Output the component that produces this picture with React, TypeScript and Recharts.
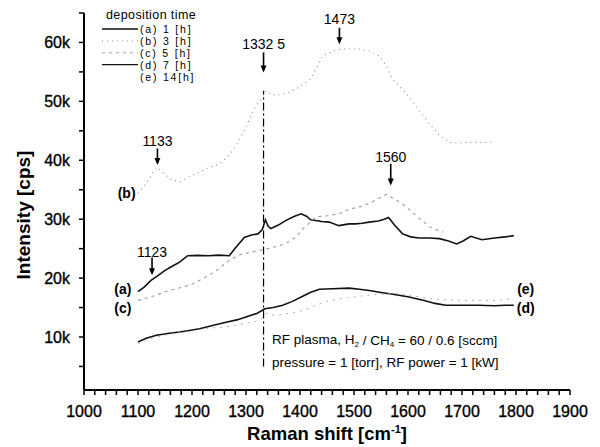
import React from 'react';
import { LineChart, Line, XAxis, YAxis, ReferenceLine, ReferenceDot } from 'recharts';

const FONT = '"Liberation Sans", Arial, sans-serif';

// (a) 1 h
const aX = [1100,1112,1124,1135,1150,1165,1177,1192,1210,1230,1250,1269,1281,1297,1310,1322,1330,1336,1341,1346,1360,1374,1390,1402,1412,1420,1440,1454,1472,1491,1503,1515,1528,1545,1556,1564,1575,1590,1605,1621,1640,1658,1675,1690,1702,1716,1737,1760,1780,1796];
const aV = [17700,18500,19600,20300,21300,22100,22700,23800,23850,23800,23900,23800,25200,26900,27300,27500,28200,29900,28800,28400,29000,29800,30500,30900,30500,29900,29600,29500,28900,29200,29200,29300,29500,29700,30000,30300,29000,27500,27000,26800,26800,26700,26300,25800,26300,27100,26500,26800,27000,27200];
// (b) 3 h
const bX = [1100,1115,1127,1136,1145,1160,1177,1195,1214,1232,1251,1270,1285,1300,1318,1330,1337,1345,1356,1380,1400,1420,1442,1463,1479,1508,1530,1547,1560,1571,1599,1630,1658,1682,1700,1719,1740,1760];
const bV = [34400,36000,37800,38800,38000,36800,36300,37200,38000,38800,39400,41000,43000,45600,49300,50500,51800,51300,51000,51500,52500,53800,57700,58600,58900,58900,58500,57700,56000,53800,51100,47300,44200,42900,43000,43050,43000,43100];
// (c) 5 h
const cX = [1100,1130,1158,1180,1201,1232,1245,1269,1290,1320,1340,1362,1380,1393,1408,1430,1454,1475,1491,1516,1535,1547,1560,1575,1590,1608,1625,1645,1665];
const cV = [16200,17000,17900,18400,19000,20500,21300,23000,24000,24600,25000,25500,26200,27000,28600,30400,30600,31000,31700,32200,33000,33600,34200,33400,32600,31200,29800,28400,27800];
// (d) 7 h
const dX = [1100,1115,1134,1155,1177,1195,1214,1240,1263,1283,1300,1320,1335,1350,1368,1385,1405,1420,1436,1460,1491,1510,1528,1547,1575,1602,1630,1650,1670,1700,1732,1760,1780,1796];
const dV = [9150,9800,10300,10600,10850,11100,11400,12000,12500,12900,13400,14000,14800,15000,15400,16000,16900,17600,18100,18200,18300,18100,17900,17600,17200,16800,16200,15700,15400,15400,15400,15300,15400,15400];
// (e) 14 h
const eX = [1100,1130,1160,1200,1230,1263,1300,1325,1337,1345,1356,1380,1405,1430,1454,1490,1528,1578,1610,1639,1670,1701,1740,1769,1793];
const eV = [8900,9900,10500,11000,11500,11700,12300,12800,14000,13800,13700,14000,14500,15400,16200,16700,17100,17400,17000,16500,16300,16200,16200,16200,16500];

const xTicks = Array.from({ length: 46 }, (_, i) => 1000 + i * 20);
const yTicks = [5000,10000,15000,20000,25000,30000,35000,40000,45000,50000,55000,60000,65000];

const legendTitle = 'deposition time';
const legendLabels = ['(a) 1 [h]', '(b) 3 [h]', '(c) 5 [h]', '(d) 7 [h]', '(e) 14[h]'];

// annotations: [label, x, textY, arrowFrom, arrowTo]
const peakNotes: [string, number, number, number, number][] = [
  ['1332 5', 1332.5, 59800, 58300, 54900],
  ['1473', 1473, 64000, 62500, 59700],
  ['1133', 1136, 43300, 42000, 39200],
  ['1560', 1568, 40600, 39400, 35700],
  ['1123', 1126, 24400, 23500, 20500],
];
// series tags: [label, x, y]
const seriesTags: [string, number, number][] = [
  ['(b)', 1079, 34400],
  ['(a)', 1072, 18200],
  ['(c)', 1072, 15000],
  ['(e)', 1818, 18200],
  ['(d)', 1818, 15000],
];

const toData = (xs: number[], vs: number[]) => xs.map((x, i) => ({ x, v: vs[i] }));

const styles = [
  { stroke: '#111', width: 1.6, dash: undefined as string | undefined },
  { stroke: '#8a8a8a', width: 1.1, dash: '1 4' },
  { stroke: '#9a9a9a', width: 1.1, dash: '3 4' },
  { stroke: '#111', width: 1.6, dash: undefined },
  { stroke: '#b0b0b0', width: 1.0, dash: '2 5' },
];
const series = [toData(aX, aV), toData(bX, bV), toData(cX, cV), toData(dX, dV), toData(eX, eV)];

const Arrow = (p: any) => {
  const { x1, y1, x2, y2 } = p;
  return (
    <g>
      <line x1={x1} y1={y1} x2={x2} y2={y2 - 5} stroke="#000" strokeWidth={1.6} />
      <polygon points={`${x2 - 3},${y2 - 7} ${x2 + 3},${y2 - 7} ${x2},${y2}`} fill="#000" />
    </g>
  );
};

const makeText = (label: string, size: number, weight: string) => (p: any) => (
  <text x={p.cx} y={p.cy} textAnchor="middle" dominantBaseline="central" fontSize={size} fontWeight={weight} fontFamily={FONT} fill="#000">{label}</text>
);

const tickStyle = { fontSize: 16, fill: '#000', fontFamily: FONT, stroke: '#000', strokeWidth: 0.35 };

export default function App() {
  return (
    <div style={{ position: 'absolute', left: 0, top: 0, width: 600, height: 447, background: '#fff' }}>
      <LineChart width={600} height={447} margin={{ top: 13, right: 30, bottom: 0, left: 0 }} style={{ fontFamily: FONT }}>
        <XAxis
          dataKey="x" type="number" domain={[1000, 1900]} ticks={xTicks} interval={0}
          allowDataOverflow height={57}
          tickFormatter={(v: number) => (v % 100 === 0 ? String(v) : '')}
          tick={tickStyle}
          tickSize={5} tickMargin={11}
          axisLine={{ stroke: '#000', strokeWidth: 2 }} tickLine={{ stroke: '#000', strokeWidth: 1.5 }}
        />
        <YAxis
          dataKey="v" type="number" domain={[1000, 65000]} ticks={yTicks} interval={0}
          allowDataOverflow width={84}
          tickFormatter={(v: number) => (v % 10000 === 0 ? `${v / 1000}k` : '')}
          tick={tickStyle}
          tickSize={5} tickMargin={9}
          axisLine={{ stroke: '#000', strokeWidth: 2 }} tickLine={{ stroke: '#000', strokeWidth: 1.5 }}
        />
        <ReferenceLine
          segment={[{ x: 1332.5, y: 5000 }, { x: 1332.5, y: 51800 }]}
          stroke="#000" strokeWidth={1.2} strokeDasharray="8 3 2 3"
        />
        {series.map((d, i) => (
          <Line key={i} data={d} dataKey="v" type="linear" stroke={styles[i].stroke}
            strokeWidth={styles[i].width} strokeDasharray={styles[i].dash}
            dot={false} activeDot={false} isAnimationActive={false} />
        ))}
        {peakNotes.map(([label, x, ty, y1, y2]) => (
          <ReferenceLine key={'ar' + label} segment={[{ x, y: y1 }, { x, y: y2 }]} shape={Arrow} />
        ))}
        {peakNotes.map(([label, x, ty]) => (
          <ReferenceDot key={'tx' + label} x={x} y={ty} r={0} shape={makeText(label, 14, 'normal')} />
        ))}
        {seriesTags.map(([label, x, y]) => (
          <ReferenceDot key={'st' + label} x={x} y={y} r={0} shape={makeText(label, 14, 'bold')} />
        ))}
        <ReferenceDot x={1350} y={10000} r={0} shape={(p: any) => (
          <text x={p.cx - 1} y={p.cy + 3} fontSize={13.5} fontFamily={FONT} fill="#000" dominantBaseline="central">
            RF plasma, H<tspan fontSize={8} dy={4}>2</tspan><tspan dy={-4}> / CH</tspan><tspan fontSize={8} dy={4}>4</tspan><tspan dy={-4}> = 60 / 0.6 [sccm]</tspan>
          </text>
        )} />
        <ReferenceDot x={1350} y={6000} r={0} shape={(p: any) => (
          <text x={p.cx - 1} y={p.cy + 2} fontSize={13.5} fontFamily={FONT} fill="#000" dominantBaseline="central">
            pressure = 1 [torr], RF power = 1 [kW]
          </text>
        )} />
      </LineChart>
      <svg width={600} height={447} style={{ position: 'absolute', left: 0, top: 0, pointerEvents: 'none' }}>
        <text x={106} y={19} fontSize={12.5} fontFamily={FONT} fill="#000" letterSpacing={0.4}>{legendTitle}</text>
        {legendLabels.map((l, i) => {
          const y = 29 + i * 11.9;
          const s = styles[i];
          return (
            <g key={l}>
              {i !== 4 && (
                <line x1={102} x2={138} y1={y} y2={y} stroke={s.stroke} strokeWidth={s.width * 0.8} strokeDasharray={s.dash} />
              )}
              <text x={140} y={y} dominantBaseline="central" fontSize={10.5} fontFamily={FONT} fill="#000" letterSpacing={1.8}>{l}</text>
            </g>
          );
        })}
        <text x={23} y={215} transform="rotate(-90 23 215)" textAnchor="middle" dominantBaseline="central" fontSize={19} fontWeight="bold" fontFamily={FONT} fill="#000">Intensity  [cps]</text>
        <text x={327} y={440} textAnchor="middle" fontSize={18.5} fontWeight="bold" fontFamily={FONT} fill="#000">
          Raman shift  [cm<tspan fontSize={11} dy={-7}>-1</tspan><tspan dy={7}>]</tspan>
        </text>
      </svg>
    </div>
  );
}
